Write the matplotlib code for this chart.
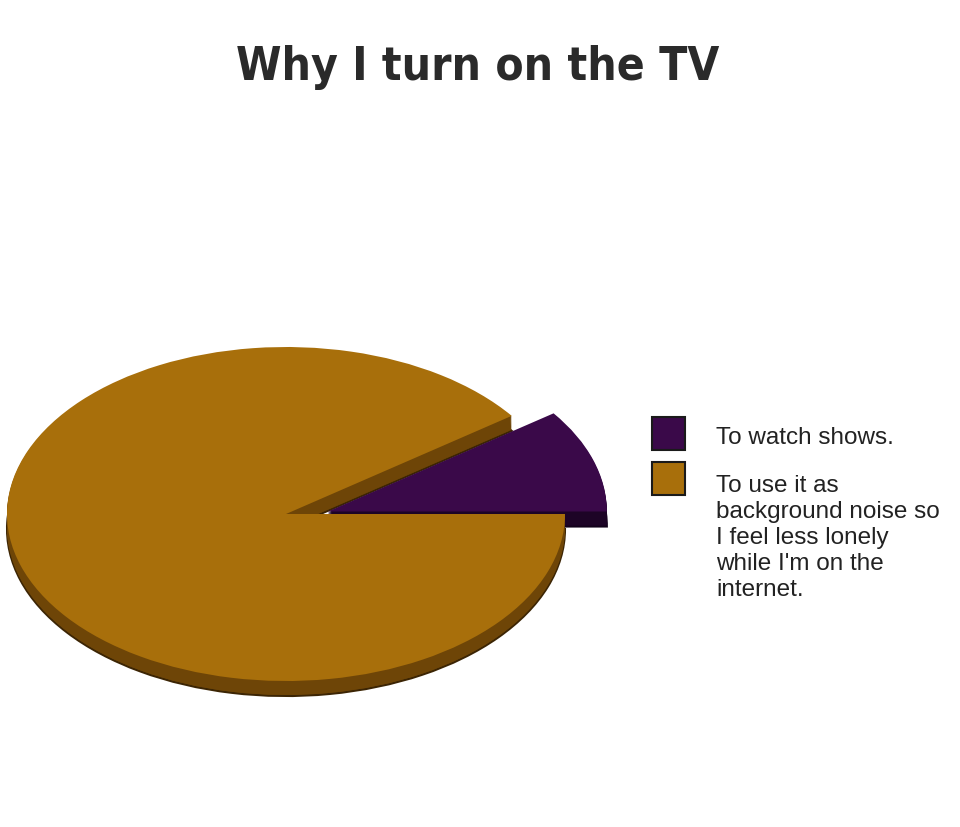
import matplotlib.pyplot as plt
from matplotlib.patches import Rectangle

# data
labels = ["To watch shows.",
          "To use it as\nbackground noise so\nI feel less lonely\nwhile I'm on the\ninternet."]
shares = [10, 90]
top_colors = ["#3a0949", "#a86f0b"]
side_colors = ["#1d0426", "#6e4507"]
title = "Why I turn on the TV"

# pie geometry in pixels (ellipse look)
cx, cy = 286, 515
rx, ry = 279, 167
pop_out = (0.15, 0.015)   # purple slice pulled to the right
depth = 0.09

fig = plt.figure(figsize=(9.6, 8.28), dpi=100)
fig.patch.set_facecolor("white")
ax = fig.add_axes([0, 0, 1, 1])

# side of the disc: stack of darker copies going down
n_layers = 14
for i in range(n_layers, 0, -1):
    off = depth * i / n_layers
    wedges, _ = ax.pie(shares, colors=side_colors, startangle=0,
                       counterclock=True, center=(0, -off),
                       wedgeprops=dict(linewidth=0))
    wedges[0].set_center((pop_out[0], pop_out[1] - off))
    if i == n_layers:
        for w, c in zip(wedges, ["#12021a", "#3c2504"]):
            w.set_edgecolor(c)
            w.set_linewidth(1.5)

# top surface
wedges, _ = ax.pie(shares, colors=top_colors, startangle=0,
                   counterclock=True, wedgeprops=dict(linewidth=0))
wedges[0].set_center(pop_out)

ax.set_aspect("auto")
ax.set_xlim(-cx / rx, (960 - cx) / rx)
ax.set_ylim(-(828 - cy) / ry, cy / ry)
ax.axis("off")

# overlay in pixel coords for title and legend
ov = fig.add_axes([0, 0, 1, 1], facecolor="none")
ov.set_xlim(0, 960)
ov.set_ylim(828, 0)
ov.axis("off")

ov.text(478, 67, title, ha="center", va="center", fontsize=33,
        fontweight="heavy", fontstretch="ultra-condensed", color="#2a2a2a",
        family=["DejaVu Sans"])

box_y = [418, 463]
text_y = [427, 475]
for lab, col, by, ty in zip(labels, top_colors, box_y, text_y):
    ov.add_patch(Rectangle((652, by), 33, 33, facecolor=col,
                           edgecolor="#1a1a1a", linewidth=1.5))
    ov.text(716, ty, lab, ha="left", va="top", fontsize=17.5,
            color="#222222", linespacing=1.24,
            family=["Liberation Sans", "DejaVu Sans"])

fig.savefig("out.png", dpi=100)
